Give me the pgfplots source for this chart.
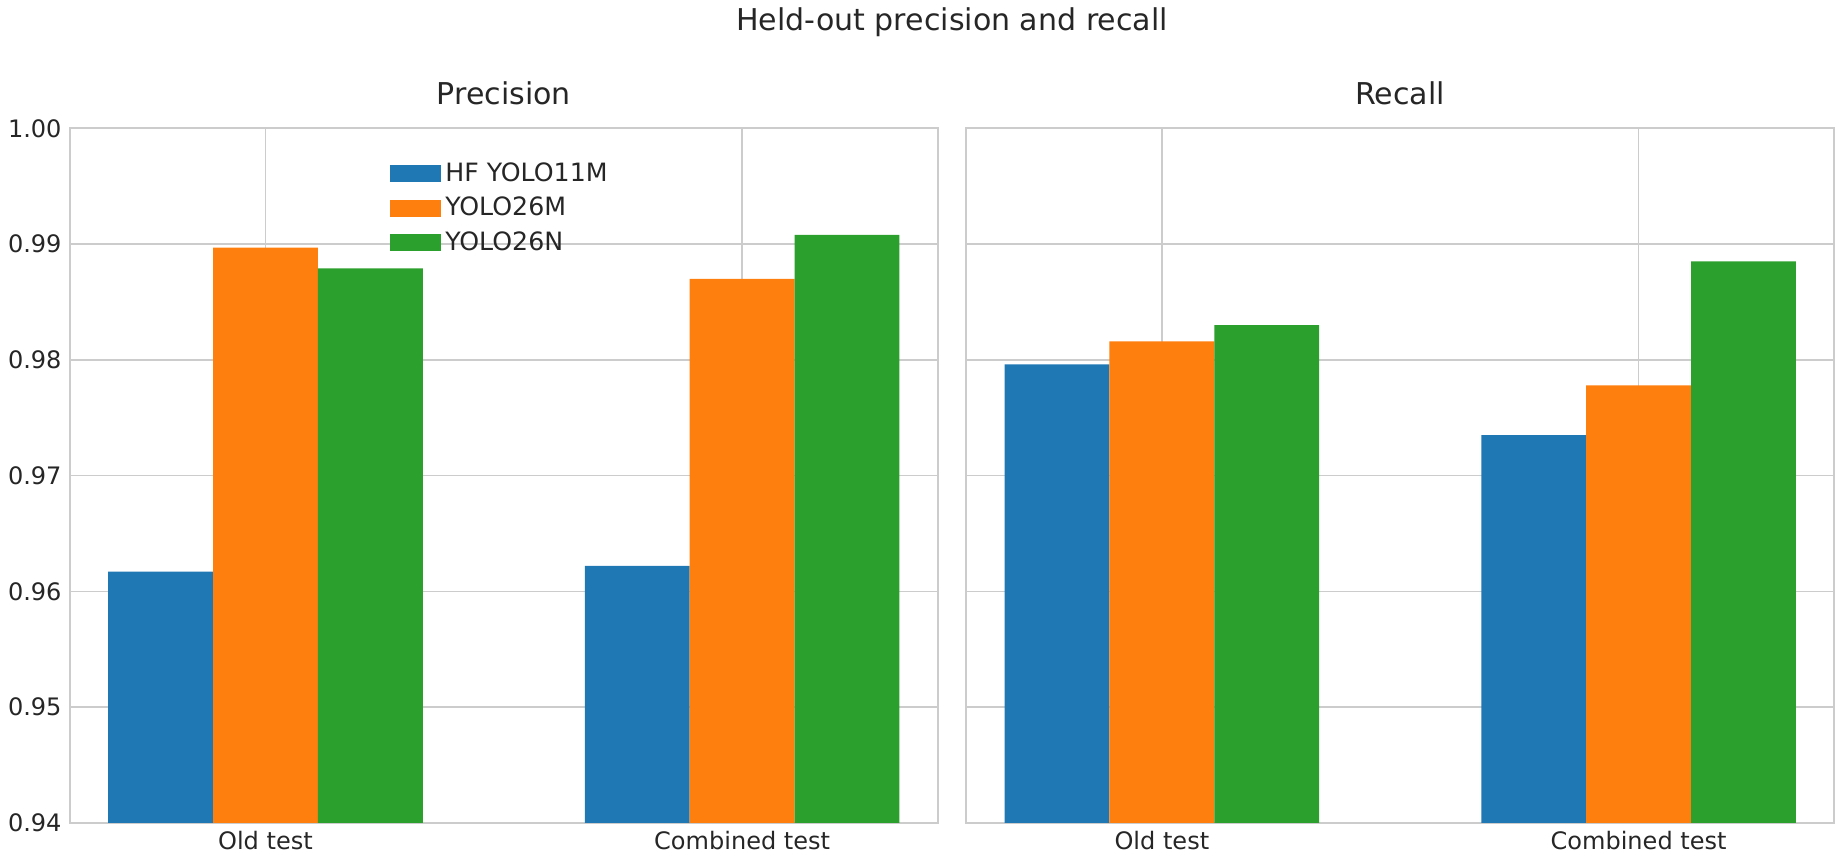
\documentclass[border=0pt]{standalone}
\usepackage{pgfplots}
\pgfplotsset{compat=1.18}
\usepackage{fontspec}
\setmainfont{DejaVu Sans}
\definecolor{cA}{HTML}{1F77B4}
\definecolor{cB}{HTML}{FF7F0E}
\definecolor{cC}{HTML}{2CA02C}
\definecolor{gr}{HTML}{CCCCCC}
\pgfplotsset{
  common/.style={
    scale only axis, width=361pt, height=289pt,
    xmin=-0.41, xmax=1.41, ymin=0.94, ymax=1.0,
    xtick={0,1}, xticklabels={Old test, Combined test},
    ytick={0.94,0.95,...,1.001},
    yticklabel style={/pgf/number format/fixed,/pgf/number format/precision=2,/pgf/number format/fixed zerofill},
    /pgf/number format/assume math mode=true,
    grid=major, major grid style={gr, line width=0.6pt},
    axis line style={gr, line width=0.8pt},
    tick style={draw=none},
    ticklabel style={font=\fontsize{10}{12}\selectfont, text=black!85},
    title style={font=\fontsize{12.5}{14}\selectfont, text=black!85},
    axis on top=false,
  },
  barA/.style={ybar, bar width=0.22, bar shift=0pt, fill=cA, draw=none},
  barB/.style={ybar, bar width=0.22, bar shift=0pt, fill=cB, draw=none},
  barC/.style={ybar, bar width=0.22, bar shift=0pt, fill=cC, draw=none},
}
\begin{document}
\begin{tikzpicture}
\begin{axis}[common, title={Precision},
  legend style={at={(0.36,0.965)}, anchor=north west, draw=none, fill=none, font=\fontsize{10.5}{13}\selectfont, text=black!85, row sep=1pt},
  legend cell align=left,
  legend image code/.code={\fill[#1] (0pt,-3.5pt) rectangle (21pt,3.5pt);}]
\addplot[barA] coordinates {(-0.22,0.9617) (0.78,0.9622)};
\addplot[barB] coordinates {(0,0.9897) (1,0.9870)};
\addplot[barC] coordinates {(0.22,0.9879) (1.22,0.9908)};
\legend{HF YOLO11M, YOLO26M, YOLO26N}
\end{axis}
\begin{axis}[common, xshift=373pt, title={Recall}, yticklabels={}]
\addplot[barA] coordinates {(-0.22,0.9796) (0.78,0.9735)};
\addplot[barB] coordinates {(0,0.9816) (1,0.9778)};
\addplot[barC] coordinates {(0.22,0.9830) (1.22,0.9885)};
\end{axis}
\node[font=\fontsize{12.5}{14}\selectfont, text=black!85] at (367pt,333pt) {Held-out precision and recall};
\end{tikzpicture}
\end{document}
